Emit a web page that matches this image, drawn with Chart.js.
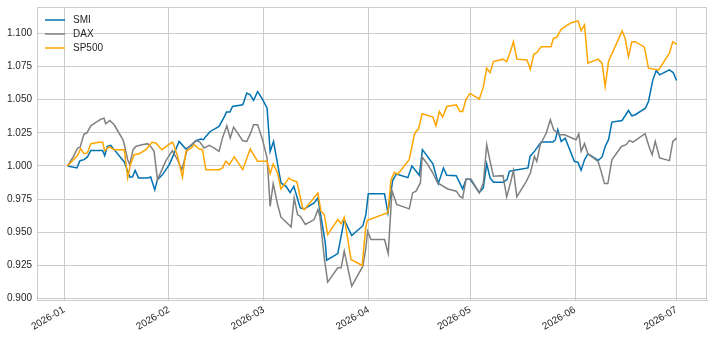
<!DOCTYPE html>
<html>
<head>
<meta charset="utf-8">
<script src="https://cdn.jsdelivr.net/npm/chart.js@4.4.1/dist/chart.umd.min.js"></script>
<style>
  html, body { margin: 0; padding: 0; background: #fff; }
  #wrap { width: 712px; height: 338px; }
</style>
</head>
<body>
<div id="wrap"><canvas id="c" width="712" height="338"></canvas></div>
<script>
// x values are days since 2026-01-01
const monthDays = [0, 31, 59, 90, 120, 151, 181];
const monthLabels = ["2026-01", "2026-02", "2026-03", "2026-04", "2026-05", "2026-06", "2026-07"];
const yTicks = [0.900, 0.925, 0.950, 0.975, 1.000, 1.025, 1.050, 1.075, 1.100];

const smiDays = [1.0, 3.8, 4.7, 5.9, 6.9, 7.9, 10.4, 11.4, 12.0, 12.8, 13.8, 14.8, 17.8, 18.8, 19.4, 20.2, 21.0, 22.0, 24.7, 25.6,
  26.8, 27.6, 29.1, 31.1, 32.5, 34.0, 36.0, 37.5, 39.0, 40.4, 41.2, 41.9, 43.2, 45.8, 47.3, 48.0, 49.0, 49.8, 52.8, 54.0,
  55.0, 56.0, 57.2, 58.7, 60.0, 60.9, 61.9, 64.1, 65.6, 66.8, 67.9, 69.8, 71.0, 73.9, 75.0, 77.2, 77.6, 80.9, 82.8, 85.0,
  88.3, 89.2, 89.9, 94.7, 95.7, 97.1, 98.2, 101.6, 102.8, 105.0, 105.9, 109.0, 110.6, 112.1, 113.1, 115.9, 117.8, 118.8, 120.0, 122.7,
  123.9, 124.9, 125.9, 126.9, 129.8, 130.9, 131.6, 133.1, 137.1, 137.7, 139.0, 141.0, 144.5, 145.2, 145.9, 146.9, 148.1, 150.8, 151.9, 152.8,
  153.8, 154.8, 157.9, 159.0, 159.9, 160.9, 161.9, 164.9, 166.8, 167.8, 168.8, 171.8, 172.7, 174.0, 175.0, 176.0, 178.9, 180.0, 181.0];
const smiVals = [1.000, 0.9985, 1.004, 1.0048, 1.0068, 1.0117, 1.0117, 1.0117, 1.0078, 1.0148, 1.0155, 1.0123, 1.003, 0.996, 0.9917, 0.9917, 0.9967, 0.991, 0.991, 0.9917,
  0.982, 0.9897, 0.9935, 1.001, 1.0093, 1.0185, 1.0128, 1.0153, 1.019, 1.0203, 1.0198, 1.0223, 1.026, 1.0298, 1.0368, 1.0406, 1.0406, 1.0448, 1.0461, 1.0549,
  1.0536, 1.0494, 1.0561, 1.050, 1.0436, 1.011, 1.0185, 0.9872, 0.9847, 0.980, 0.9847, 0.9684, 0.9677, 0.9722, 0.9759, 0.942, 0.929, 0.934, 0.9596, 0.9476,
  0.955, 0.9634, 0.979, 0.979, 0.9647, 0.989, 0.994, 0.9912, 1.000, 0.993, 1.0123, 1.0017, 0.9867, 0.9985, 0.993, 0.9927, 0.9827, 0.990, 0.990, 0.980,
  0.9835, 1.0017, 0.991, 0.9877, 0.9877, 0.9897, 0.996, 0.9967, 0.9985, 1.0072, 1.011, 1.018, 1.018, 1.0198, 1.0273, 1.0185, 1.021, 1.0035, 1.0027, 0.9967,
  1.0047, 1.0092, 1.0042, 1.0068, 1.0147, 1.0198, 1.0331, 1.0343, 1.0418, 1.0378, 1.0386, 1.0436, 1.0486, 1.0649, 1.0719, 1.0687, 1.0724, 1.0704, 1.0644];

const daxDays = [1.0, 2.5, 4.0, 4.7, 5.9, 6.7, 7.9, 9.4, 10.9, 11.8, 12.3, 13.5, 14.8, 17.3, 17.7, 18.8, 19.4, 20.4, 21.2, 22.7,
  24.7, 25.6, 26.6, 27.6, 28.4, 30.1, 32.0, 33.5, 34.8, 36.5, 39.0, 40.2, 41.4, 42.9, 44.4, 45.8, 46.8, 48.1, 49.1, 50.1,
  51.3, 52.8, 54.0, 55.2, 56.0, 57.2, 58.7, 60.0, 60.9, 61.8, 63.1, 64.1, 67.1, 68.0, 69.0, 69.8, 71.3, 73.9, 75.0, 75.6,
  76.9, 77.9, 80.9, 81.9, 82.8, 85.0, 88.3, 89.2, 89.7, 90.7, 94.7, 95.8, 96.9, 98.3, 102.0, 103.0, 104.0, 105.3, 105.8, 107.5,
  109.0, 110.4, 113.4, 115.9, 117.0, 117.8, 118.8, 120.3, 122.7, 123.9, 124.9, 125.9, 126.9, 129.7, 130.8, 131.8, 132.8, 133.8, 136.6, 137.8,
  139.0, 139.7, 140.7, 142.5, 143.7, 144.7, 146.4, 147.9, 151.3, 152.1, 152.8, 153.8, 154.8, 157.8, 158.8, 159.7, 160.7, 161.9, 164.7, 166.1,
  167.1, 168.1, 171.7, 173.0, 173.8, 174.7, 176.0, 178.9, 179.9, 181.0];
const daxVals = [1.000, 1.006, 1.0135, 1.014, 1.024, 1.0248, 1.0303, 1.0328, 1.0353, 1.036, 1.0318, 1.0343, 1.031, 1.0203, 1.0173, 1.0047, 1.001, 1.0123, 1.0147, 1.0158,
  1.0168, 1.0147, 1.011, 0.9897, 0.9942, 1.004, 1.0115, 1.0047, 0.9972, 1.0135, 1.0193, 1.0178, 1.0135, 1.0155, 1.0135, 1.011, 1.021, 1.0303, 1.021, 1.0293,
  1.0248, 1.019, 1.0185, 1.0253, 1.031, 1.031, 1.0193, 1.006, 0.9696, 0.9867, 0.971, 0.9614, 0.9541, 0.9759, 0.9634, 0.9621, 0.9559, 0.9596, 0.9671, 0.9621,
  0.9308, 0.9125, 0.9233, 0.9233, 0.9358, 0.9095, 0.9245, 0.9383, 0.9508, 0.9446, 0.9446, 0.934, 0.9814, 0.971, 0.9677, 0.9797, 0.981, 0.9872, 1.0068, 1.001,
  0.9947, 0.9872, 0.9827, 0.981, 0.9771, 0.9759, 0.990, 0.990, 0.9797, 0.9872, 1.016, 1.0035, 0.9922, 0.9927, 0.9767, 0.986, 0.9967, 0.9767, 0.9884, 0.9947,
  1.0072, 1.0035, 1.016, 1.0248, 1.0348, 1.0273, 1.0235, 1.0235, 1.0198, 1.0243, 1.011, 1.0168, 1.0092, 1.0035, 0.9952, 0.9867, 0.9867, 1.0047, 1.0147, 1.016,
  1.0193, 1.018, 1.0243, 1.0135, 1.0085, 1.0185, 1.006, 1.004, 1.0185, 1.021];

const spxDays = [1.0, 4.0, 4.9, 5.9, 6.9, 7.9, 10.4, 11.4, 12.0, 13.3, 14.8, 17.8, 18.8, 19.6, 20.7, 22.2, 24.2, 26.0, 27.1, 28.9,
  31.6, 32.1, 33.5, 35.0, 36.0, 37.5, 38.5, 39.9, 40.9, 41.9, 45.8, 46.8, 47.8, 48.8, 50.3, 52.8, 55.0, 57.2, 60.0, 60.9,
  61.8, 63.1, 64.1, 66.5, 67.5, 68.8, 70.5, 71.0, 75.0, 75.9, 76.9, 77.9, 80.9, 81.9, 82.8, 84.8, 88.1, 89.1, 89.6, 95.7,
  96.6, 97.6, 98.6, 102.0, 103.5, 104.2, 104.7, 105.8, 109.0, 109.9, 110.9, 111.9, 113.1, 115.9, 117.0, 117.8, 118.8, 120.0, 122.7, 123.9,
  124.9, 125.9, 126.9, 129.7, 130.8, 131.8, 132.8, 133.8, 136.8, 137.8, 138.8, 139.7, 141.0, 143.9, 144.6, 145.6, 146.9, 148.4, 149.9, 151.9,
  152.8, 153.8, 154.8, 157.8, 159.0, 159.9, 160.9, 164.9, 165.8, 166.8, 167.8, 168.8, 171.5, 172.7, 175.7, 178.9, 179.9, 181.0];
const spxVals = [1.000, 1.008, 1.013, 1.0092, 1.0098, 1.0168, 1.0178, 1.0178, 1.0115, 1.0145, 1.0123, 1.0123, 0.991, 1.001, 1.0085, 1.0092, 1.0123, 1.0178, 1.0173, 1.0123,
  1.0173, 1.0178, 1.0077, 0.9914, 1.011, 1.0135, 1.016, 1.0128, 1.0123, 0.9972, 0.9972, 0.9985, 1.0035, 1.001, 1.0068, 0.9972, 1.0128, 1.0035, 1.0035, 0.9942,
  1.0015, 0.9947, 0.9827, 0.991, 0.9892, 0.988, 0.9684, 0.9671, 0.9797, 0.9659, 0.9634, 0.9483, 0.9596, 0.9564, 0.9614, 0.9295, 0.925, 0.9526, 0.9591, 0.9647,
  0.9892, 0.9952, 0.9938, 1.0047, 1.0235, 1.0268, 1.0273, 1.0393, 1.0368, 1.0303, 1.041, 1.0368, 1.0448, 1.0461, 1.041, 1.041, 1.0505, 1.0547, 1.0504, 1.0594,
  1.0737, 1.0704, 1.0787, 1.0805, 1.0787, 1.0854, 1.0937, 1.0805, 1.0799, 1.0729, 1.0842, 1.0854, 1.0899, 1.0899, 1.0962, 1.097, 1.103, 1.1055, 1.108, 1.1093,
  1.102, 1.1063, 1.0775, 1.0805, 1.0775, 1.0599, 1.0787, 1.1017, 1.0962, 1.0824, 1.0937, 1.0937, 1.0895, 1.0737, 1.0724, 1.085, 1.0937, 1.0917];

const toPoints = (days, vals) => days.map((d, i) => ({ x: d, y: vals[i] }));

Chart.defaults.font.family = "'Liberation Sans', Arial, sans-serif";
Chart.defaults.font.size = 10;
Chart.defaults.color = "#262626";

// matplotlib-style frame and legend box in the upper left
const framePlugin = {
  id: "frame",
  afterDraw(chart) {
    const { ctx, chartArea: a } = chart;
    ctx.save();
    ctx.strokeStyle = "#cccccc";
    ctx.lineWidth = 1;
    ctx.strokeRect(a.left + 0.5, a.top + 0.5, a.right - a.left - 1, a.bottom - a.top);
    ctx.font = "10px 'Liberation Sans', Arial, sans-serif";
    ctx.textBaseline = "middle";
    chart.data.datasets.forEach((ds, i) => {
      const y = a.top + 13 + i * 14;
      ctx.strokeStyle = ds.borderColor;
      ctx.lineWidth = 1.5;
      ctx.beginPath();
      ctx.moveTo(a.left + 8, y);
      ctx.lineTo(a.left + 28, y);
      ctx.stroke();
      ctx.fillStyle = "#262626";
      ctx.fillText(ds.label, a.left + 36, y);
    });
    ctx.restore();
  }
};

new Chart(document.getElementById("c"), {
  type: "line",
  data: {
    datasets: [
      { label: "SMI", data: toPoints(smiDays, smiVals), borderColor: "#0072b2", order: 3 },
      { label: "DAX", data: toPoints(daxDays, daxVals), borderColor: "#808080", order: 2 },
      { label: "SP500", data: toPoints(spxDays, spxVals), borderColor: "#ffa500", order: 1 }
    ]
  },
  options: {
    responsive: false,
    animation: false,
    layout: { padding: { left: 7, top: 7, right: 5, bottom: 0 } },
    elements: {
      point: { radius: 0 },
      line: { borderWidth: 1.5, tension: 0 }
    },
    plugins: { legend: { display: false }, tooltip: { enabled: false } },
    scales: {
      x: {
        type: "linear",
        min: -8,
        max: 190,
        afterBuildTicks: (scale) => { scale.ticks = monthDays.map((v) => ({ value: v })); },
        afterFit: (scale) => { scale.height = 38; scale.paddingLeft = 0; scale.paddingRight = 0; },
        ticks: {
          autoSkip: false,
          minRotation: 30,
          maxRotation: 30,
          padding: 4,
          callback: (v) => monthLabels[monthDays.indexOf(v)]
        },
        grid: { color: "#cccccc", drawTicks: false },
        border: { color: "#cccccc" }
      },
      y: {
        min: 0.899,
        max: 1.1198,
        afterBuildTicks: (scale) => { scale.ticks = yTicks.map((v) => ({ value: v })); },
        afterFit: (scale) => { scale.width = 30; scale.paddingTop = 0; scale.paddingBottom = 0; },
        ticks: {
          padding: 5,
          callback: (v) => v.toFixed(3)
        },
        grid: { color: "#cccccc", drawTicks: false },
        border: { color: "#cccccc" }
      }
    }
  },
  plugins: [framePlugin]
});
</script>
</body>
</html>
